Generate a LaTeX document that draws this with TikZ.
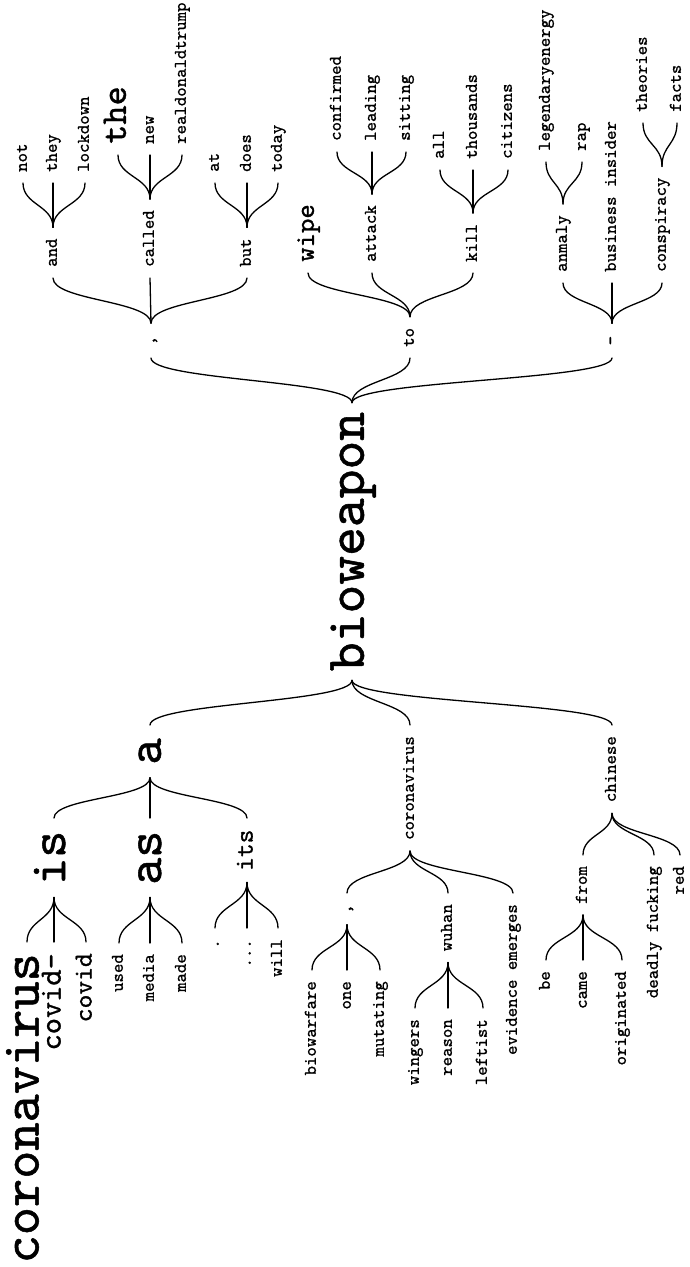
\documentclass[tikz,border=0pt]{standalone}
\usepackage{fontspec}
\newfontfamily\wtfont{lmmono10-regular.otf}[FakeBold=1.0]
\usetikzlibrary{calc}
\tikzset{
  wt/.style={rotate=90, inner ysep=0pt, inner xsep=11pt,
    /utils/exec={\pgfmathsetmacro\wts{1.142857*#1}\pgfmathsetmacro\wth{0.7086*#1}\pgfmathsetmacro\wtd{0.2171*#1}},
    text height=\wth pt, text depth=\wtd pt,
    font=\wtfont\fontsize{\wts pt}{\wts pt}\selectfont},
  wt/.default=15.7,
  sfx/.style={wt=#1, anchor=west}, sfx/.default=15.7,
  pfx/.style={wt=#1, anchor=east}, pfx/.default=15.7,
  wire/.style={line width=1.3pt, line cap=round, line join=round}
}
\newcommand\lnk[2]{\draw[wire] let \p1=(#1), \p2=(#2) in (\p1) .. controls (\x1,{0.5*(\y1+\y2)}) and (\x2,{0.5*(\y1+\y2)}) .. (\p2);}
\begin{document}
\begin{tikzpicture}[x=1pt,y=1pt]
\useasboundingbox (0,0) rectangle (689,-1267);
% root
\node[wt=48, anchor=center, inner xsep=9pt] (bio) at (352,-541.5) {bioweapon};
% ---------- suffix side ----------
\node[sfx, inner xsep=12.5pt] (c1) at (151,-358) {,};
\node[sfx] (to) at (410,-358) {to};
\node[sfx, inner xsep=12.5pt] (dash) at (612,-358) {-};
\node[sfx] (and) at (53,-278) {and};
\node[sfx] (called) at (150,-278) {called};
\node[sfx] (but) at (247,-278) {but};
\node[sfx=24] (wipe) at (308,-273) {wipe};
\node[sfx] (attack) at (372,-273) {attack};
\node[sfx] (kill) at (473,-273) {kill};
\node[sfx] (anmaly) at (563,-283) {anmaly};
\node[sfx] (binsider) at (612,-283) {business insider};
\node[sfx] (consp) at (662,-283) {conspiracy};
\node[sfx] (not) at (23,-183) {not};
\node[sfx] (they) at (53,-183) {they};
\node[sfx] (lockdown) at (85,-183) {lockdown};
\node[sfx=32] (the) at (118,-155) {the};
\node[sfx] (new) at (150,-155) {new};
\node[sfx] (rdt) at (182,-155) {realdonaldtrump};
\node[sfx] (at) at (215,-183) {at};
\node[sfx] (does) at (247,-183) {does};
\node[sfx] (today) at (278,-183) {today};
\node[sfx] (confirmed) at (337,-152) {confirmed};
\node[sfx] (leading) at (372,-152) {leading};
\node[sfx] (sitting) at (406,-152) {sitting};
\node[sfx] (all) at (440,-170) {all};
\node[sfx] (thousands) at (473,-170) {thousands};
\node[sfx] (citizens) at (508,-170) {citizens};
\node[sfx] (legend) at (546,-162) {legendaryenergy};
\node[sfx] (rap) at (582,-162) {rap};
\node[sfx] (theories) at (643,-123) {theories};
\node[sfx] (facts) at (677,-123) {facts};
% ---------- prefix side ----------
\node[pfx=44, inner xsep=13pt] (a) at (150,-725) {a};
\node[pfx] (corona1) at (410,-725) {coronavirus};
\node[pfx] (chinese) at (612,-725) {chinese};
\node[pfx=45, inner xsep=12.5pt] (is) at (54,-818) {is};
\node[pfx=45, inner xsep=12.5pt] (as) at (150,-818) {as};
\node[pfx=23, inner xsep=11.3pt] (its) at (247,-818) {its};
\node[pfx] (c2) at (347,-893) {,};
\node[pfx] (wuhan) at (448,-893) {wuhan};
\node[pfx] (evid) at (513,-893) {evidence emerges};
\node[pfx] (from) at (583,-855) {from};
\node[pfx] (deadly) at (654,-855) {deadly fucking};
\node[pfx] (red) at (680,-855) {red};
\node[pfx=47] (corona2) at (27,-942) {coronavirus};
\node[pfx=27] (covidd) at (54,-942) {covid-};
\node[pfx=23] (covid) at (86,-942) {covid};
\node[pfx] (used) at (119,-943) {used};
\node[pfx] (media) at (150,-943) {media};
\node[pfx] (made) at (182,-943) {made};
\node[pfx] (dot) at (215,-928) {.};
\node[pfx] (dots) at (247,-928) {...};
\node[pfx] (will) at (278,-928) {will};
\node[pfx] (biowarfare) at (312,-970) {biowarfare};
\node[pfx] (one) at (347,-970) {one};
\node[pfx] (mutating) at (380,-970) {mutating};
\node[pfx] (wingers) at (415,-1008) {wingers};
\node[pfx] (reason) at (448,-1008) {reason};
\node[pfx] (leftist) at (483,-1008) {leftist};
\node[pfx] (be) at (546,-960) {be};
\node[pfx] (came) at (583,-960) {came};
\node[pfx] (originated) at (622,-960) {originated};
% ---------- links: suffix ----------
\lnk{bio.east}{c1.west}
\lnk{bio.east}{to.west}
\lnk{bio.east}{dash.west}
\lnk{c1.east}{and.west}
\lnk{c1.east}{called.west}
\lnk{c1.east}{but.west}
\lnk{to.east}{wipe.west}
\lnk{to.east}{attack.west}
\lnk{to.east}{kill.west}
\lnk{dash.east}{anmaly.west}
\lnk{dash.east}{binsider.west}
\lnk{dash.east}{consp.west}
\lnk{and.east}{not.west}
\lnk{and.east}{they.west}
\lnk{and.east}{lockdown.west}
\lnk{called.east}{the.west}
\lnk{called.east}{new.west}
\lnk{called.east}{rdt.west}
\lnk{but.east}{at.west}
\lnk{but.east}{does.west}
\lnk{but.east}{today.west}
\lnk{attack.east}{confirmed.west}
\lnk{attack.east}{leading.west}
\lnk{attack.east}{sitting.west}
\lnk{kill.east}{all.west}
\lnk{kill.east}{thousands.west}
\lnk{kill.east}{citizens.west}
\lnk{anmaly.east}{legend.west}
\lnk{anmaly.east}{rap.west}
\lnk{consp.east}{theories.west}
\lnk{consp.east}{facts.west}
% ---------- links: prefix ----------
\lnk{bio.west}{a.east}
\lnk{bio.west}{corona1.east}
\lnk{bio.west}{chinese.east}
\lnk{a.west}{is.east}
\lnk{a.west}{as.east}
\lnk{a.west}{its.east}
\lnk{corona1.west}{c2.east}
\lnk{corona1.west}{wuhan.east}
\lnk{corona1.west}{evid.east}
\lnk{chinese.west}{from.east}
\lnk{chinese.west}{deadly.east}
\lnk{chinese.west}{red.east}
\lnk{is.west}{corona2.east}
\lnk{is.west}{covidd.east}
\lnk{is.west}{covid.east}
\lnk{as.west}{used.east}
\lnk{as.west}{media.east}
\lnk{as.west}{made.east}
\lnk{its.west}{dot.east}
\lnk{its.west}{dots.east}
\lnk{its.west}{will.east}
\lnk{c2.west}{biowarfare.east}
\lnk{c2.west}{one.east}
\lnk{c2.west}{mutating.east}
\lnk{wuhan.west}{wingers.east}
\lnk{wuhan.west}{reason.east}
\lnk{wuhan.west}{leftist.east}
\lnk{from.west}{be.east}
\lnk{from.west}{came.east}
\lnk{from.west}{originated.east}
\end{tikzpicture}
\end{document}
